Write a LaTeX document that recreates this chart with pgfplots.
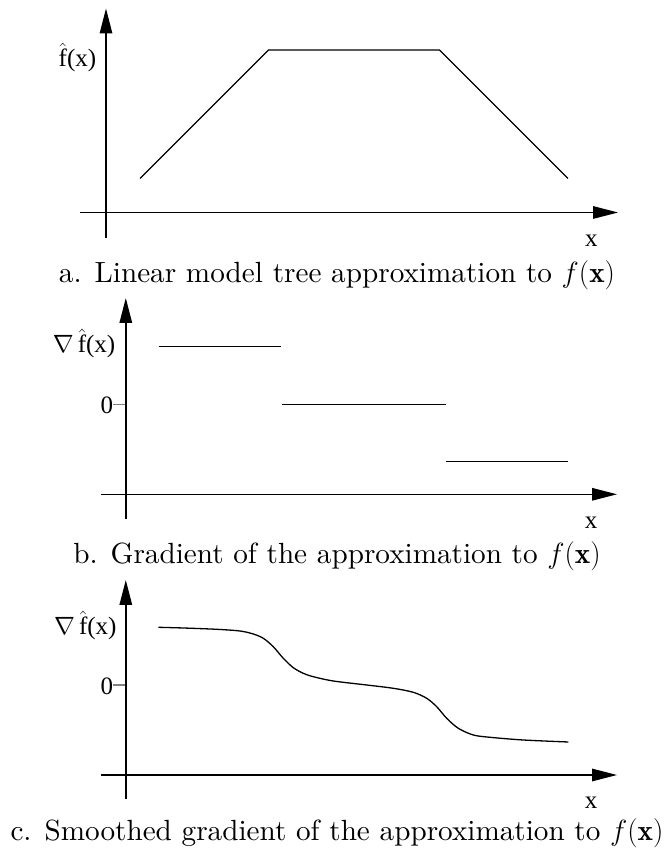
\RequirePackage{fix-cm}
\documentclass[border=0pt]{standalone}
\usepackage{pgfplots}
\pgfplotsset{compat=1.18}
\usepackage{fontspec}
\usetikzlibrary{arrows.meta}
\newfontfamily\labelfont{Liberation Serif}
% captions use the 10pt design of Latin Modern, scaled up
\newfontfamily\capfamily{lmroman10-regular}[Extension=.otf, BoldFont=lmroman10-bold]

% font sizes: axis labels and panel captions
\newcommand\lbl{\labelfont\fontsize{25}{30}\selectfont}
\newcommand\capfont{\capfamily\fontsize{29.2}{35}\selectfont}

\pgfplotsset{
  sketch/.style={
    anchor=origin, x=1pt, y=1pt,
    axis lines*=middle,
    axis line style={line width=1.4pt, black},
    x axis line style={-{Triangle[length=25pt,width=12.5pt]}},
    y axis line style={-{Triangle[length=25pt,width=12.5pt]}},
    xtick=\empty, ytick=\empty,
    clip=false,
  },
  curve/.style={black, line width=1.3pt, no marks},
}

\begin{document}
\begin{tikzpicture}
\useasboundingbox (0,0) rectangle (664pt,851pt);

% (a) piecewise-linear model tree fit
\begin{axis}[sketch, at={(106pt,638.5pt)},
  xmin=-26, xmax=512, ymin=-25.5, ymax=204]
  \addplot[curve] coordinates {(34,34) (162.5,162.5) (333.5,162.5) (462,34)};
  \node[anchor=base east, inner sep=0pt, font=\lbl] at (axis cs:-9.6,145.5) {$\hat{\mbox{f}}$(x)};
  \node[anchor=base, inner sep=0pt, font=\lbl] at (axis cs:485.4,-34.2) {x};
\end{axis}

% (b) piecewise-constant gradient
\begin{axis}[sketch, at={(125.8pt,356.7pt)},
  xmin=-24.5, xmax=491.2, ymin=-25, ymax=196.3,
  ytick={90}, yticklabels={}, major tick length=12.7pt,
  y tick style={line width=1.4pt}, tick align=outside]
  \addplot[curve] coordinates {(32.9,147.6) (155.4,147.6)};
  \addplot[curve] coordinates {(156.4,90) (320,90)};
  \addplot[curve] coordinates {(320,32.6) (442.4,32.6)};
  \node[anchor=base east, inner sep=0pt, font=\lbl] at (axis cs:-10.3,141.3) {$\nabla\,\hat{\mbox{f}}$(x)};
  \node[anchor=east, inner sep=0pt, font=\lbl] at (axis cs:-12.5,89.3) {0};
  \node[anchor=base, inner sep=0pt, font=\lbl] at (axis cs:465.2,-34) {x};
\end{axis}

% (c) smoothed gradient
\begin{axis}[sketch, at={(125.8pt,76pt)},
  xmin=-24.5, xmax=491.2, ymin=-24.3, ymax=195,
  ytick={90}, yticklabels={}, major tick length=12.7pt,
  y tick style={line width=1.4pt}, tick align=outside]
  \addplot[curve, smooth, tension=0.5] coordinates {
    (32.5,147.7) (57.5,147) (90.9,145.7) (114.2,144) (127.5,141)
    (137.5,136.7) (147.5,128.3) (157.5,116.7) (167.5,107.3) (177.5,101.7)
    (187.5,98.3) (207.5,94) (240.9,90) (267.5,86.7) (287.5,82.7)
    (300.9,76.7) (310.9,68.3) (320.9,56.7) (332.5,46.7) (347.5,40)
    (364.2,37.7) (397.5,35) (442.5,33)};
  \node[anchor=base east, inner sep=0pt, font=\lbl] at (axis cs:-9.1,140) {$\nabla\,\hat{\mbox{f}}$(x)};
  \node[anchor=east, inner sep=0pt, font=\lbl] at (axis cs:-12.5,88.5) {0};
  \node[anchor=base, inner sep=0pt, font=\lbl] at (axis cs:465.2,-33.3) {x};
\end{axis}

% panel captions
\node[anchor=base, inner sep=0pt, font=\capfont] at (337pt,568.3pt) {a. Linear model tree approximation to $f(\mathbf{x})$};
\node[anchor=base, inner sep=0pt, font=\capfont] at (337pt,287.7pt) {b. Gradient of the approximation to $f(\mathbf{x})$};
\node[anchor=base, inner sep=0pt, font=\capfont] at (337pt,10pt) {c. Smoothed gradient of the approximation to $f(\mathbf{x})$};
\end{tikzpicture}
\end{document}
